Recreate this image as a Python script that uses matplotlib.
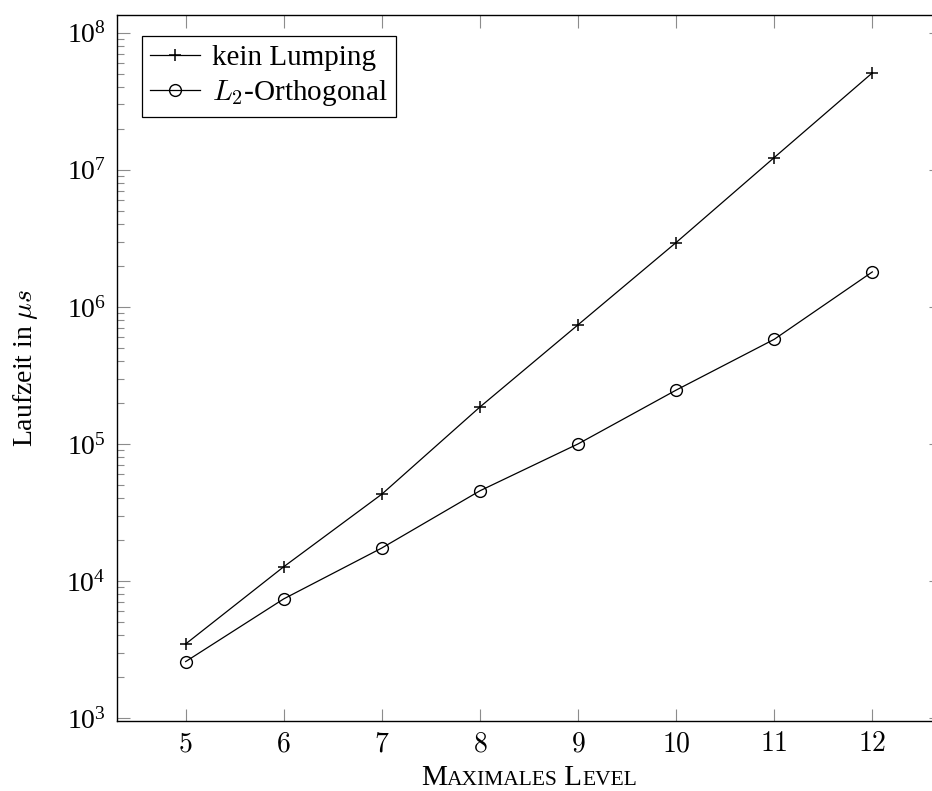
import matplotlib
matplotlib.use("Agg")
import matplotlib.pyplot as plt
from matplotlib.ticker import LogLocator, NullFormatter
from matplotlib.offsetbox import TextArea, HPacker, AnchoredOffsetbox

levels = [5, 6, 7, 8, 9, 10, 11, 12]
kein_lumping = [3470, 12700, 43000, 186000, 740000, 2950000, 12300000, 51000000]
l2_orthogonal = [2580, 7400, 17400, 45500, 100000, 247000, 580000, 1800000]
series_labels = ["kein Lumping", "$L_2$-Orthogonal"]
x_ticks = [5, 6, 7, 8, 9, 10, 11, 12]

plt.rcParams['mathtext.fontset'] = 'cm'
plt.rcParams['font.family'] = ['Liberation Serif', 'DejaVu Serif']

fig = plt.figure(figsize=(9.32, 7.91), dpi=100)
ax = fig.add_axes([117/932, 70/791, 824/932, 706/791])

ax.plot(levels, kein_lumping, color='black', lw=0.9, marker='+', ms=9, mew=1.1,
        label=series_labels[0])
ax.plot(levels, l2_orthogonal, color='black', lw=0.9, marker='o', ms=8.5, mew=1.0,
        mfc='none', label=series_labels[1])

ax.set_yscale('log')
ax.set_xlim(4.3, 12.7)
ax.set_ylim(10**2.978, 10**8.13)
ax.set_xticks(x_ticks)
ax.set_xticklabels([f"${v}$" for v in x_ticks])
ax.yaxis.set_major_locator(LogLocator(base=10, numticks=20))
ax.yaxis.set_minor_locator(LogLocator(base=10, subs=range(2, 10), numticks=50))
ax.yaxis.set_minor_formatter(NullFormatter())

for s in ax.spines.values():
    s.set_linewidth(1.0)
    s.set_color('black')

ax.tick_params(which='major', direction='in', top=True, right=True, length=9,
               width=0.8, color='0.55', labelsize=20, pad=8)
ax.tick_params(which='minor', direction='in', left=True, right=True, length=5,
               width=0.8, color='0.55')
ax.tick_params(axis='x', which='minor', bottom=False, top=False)

ax.set_ylabel(r"Laufzeit in $\mu s$", fontsize=20)
ax.yaxis.set_label_coords(-0.094, 0.5)

# Small-caps x label
big = 21
small = 15.5
parts = [TextArea("M", textprops=dict(size=big)),
         TextArea("AXIMALES", textprops=dict(size=small)),
         TextArea(" L", textprops=dict(size=big)),
         TextArea("EVEL", textprops=dict(size=small))]
box = HPacker(children=parts, align="baseline", pad=0, sep=0)
anch = AnchoredOffsetbox(loc='upper center', child=box, pad=0, frameon=False,
                         bbox_to_anchor=(0.5, -0.062), bbox_transform=ax.transAxes,
                         borderpad=0)
ax.add_artist(anch)

leg = ax.legend(loc='upper left', bbox_to_anchor=(0.030, 0.970), borderaxespad=0,
                fontsize=21, frameon=True, fancybox=False, framealpha=1,
                edgecolor='black', handlelength=1.7, handletextpad=0.4,
                borderpad=0.3, labelspacing=0.22)
leg.get_frame().set_linewidth(0.9)

fig.savefig("out.png", dpi=100)
